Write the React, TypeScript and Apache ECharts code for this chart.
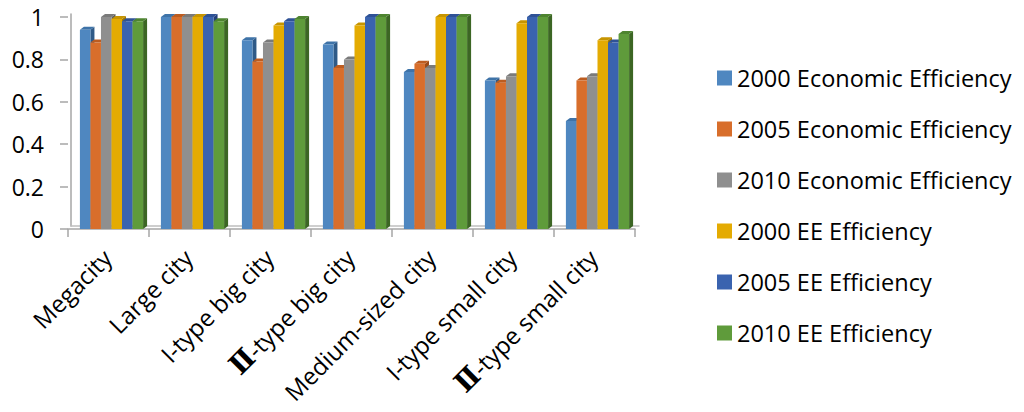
import React, { useEffect, useRef } from "react";
import * as echarts from "echarts";

const categories = [
  "Megacity",
  "Large city",
  "I-type big city",
  "Ⅱ-type big city",
  "Medium-sized city",
  "I-type small city",
  "Ⅱ-type small city",
];

const seriesNames = [
  "2000 Economic Efficiency",
  "2005 Economic Efficiency",
  "2010 Economic Efficiency",
  "2000 EE Efficiency",
  "2005 EE Efficiency",
  "2010 EE Efficiency",
];

const econ2000 = [0.94, 1.0, 0.89, 0.87, 0.74, 0.7, 0.51];
const econ2005 = [0.88, 1.0, 0.79, 0.76, 0.78, 0.69, 0.7];
const econ2010 = [1.0, 1.0, 0.88, 0.8, 0.76, 0.72, 0.72];
const ee2000 = [0.99, 1.0, 0.96, 0.96, 1.0, 0.97, 0.89];
const ee2005 = [0.98, 1.0, 0.98, 1.0, 1.0, 1.0, 0.88];
const ee2010 = [0.98, 0.98, 0.99, 1.0, 1.0, 1.0, 0.92];

const seriesValues = [econ2000, econ2005, econ2010, ee2000, ee2005, ee2010];

const yTicks = [0, 0.2, 0.4, 0.6, 0.8, 1];

const frontColors = ["#4F87C0", "#D86E2B", "#8F8F8F", "#E4AB02", "#3A63AF", "#5F9B3B"];
const sideColors = ["#2F5A87", "#9A4A18", "#5E5E5E", "#A27900", "#243F78", "#3C6624"];
const topColors = ["#3E73A8", "#BC5C20", "#7A7A7A", "#C79500", "#2F5296", "#4E8430"];

const FONT = "'Open Sans', sans-serif";

export default function App() {
  const ref = useRef<HTMLDivElement>(null);

  useEffect(() => {
    document.body.style.margin = "0";
    if (!ref.current) return;
    const chart = echarts.init(ref.current, null, { renderer: "svg" });

    const nSeries = seriesValues.length;

    const series: any[] = seriesValues.map((vals, s) => ({
      name: seriesNames[s],
      type: "custom",
      xAxisIndex: 0,
      yAxisIndex: 0,
      itemStyle: { color: frontColors[s] },
      data: vals.map((v, i) => [i, v]),
      encode: { x: 0, y: 1 },
      renderItem: (params: any, api: any) => {
        const ci = api.value(0);
        const v = api.value(1);
        const base = api.coord([ci, 0]);
        const top = api.coord([ci, v]);
        const band = api.size([1, 0])[0];
        const groupW = band * 0.78;
        const bw = groupW / nSeries;
        const x0 = base[0] - groupW / 2 + s * bw + 3;
        const dx = 4;
        const dy = 3;
        const yb = base[1];
        const yt = top[1];
        return {
          type: "group",
          children: [
            {
              type: "polygon",
              shape: {
                points: [
                  [x0 + bw, yt],
                  [x0 + bw + dx, yt - dy],
                  [x0 + bw + dx, yb - dy],
                  [x0 + bw, yb],
                ],
              },
              style: { fill: sideColors[s] },
            },
            {
              type: "polygon",
              shape: {
                points: [
                  [x0, yt],
                  [x0 + dx, yt - dy],
                  [x0 + bw + dx, yt - dy],
                  [x0 + bw, yt],
                ],
              },
              style: { fill: topColors[s] },
            },
            {
              type: "rect",
              shape: { x: x0, y: yt, width: bw, height: yb - yt },
              style: { fill: api.visual("color") },
            },
          ],
        };
      },
    }));

    const option: any = {
      animation: false,
      legend: {
        orient: "vertical",
        left: 712,
        top: 61,
        icon: "rect",
        itemWidth: 15,
        itemHeight: 15,
        itemGap: 27,
        data: seriesNames,
        textStyle: {
          fontFamily: FONT,
          fontSize: 23.5,
          color: "#000",
          lineHeight: 23.5,
        },
      },
      grid: [
        { left: 68, right: 389, top: 17, bottom: 183 },
        { left: 71, right: 385, top: 14, bottom: 186 },
      ],
      xAxis: [
        {
          type: "category",
          gridIndex: 0,
          data: categories,
          axisLine: { show: true, lineStyle: { color: "#A6A6A6", width: 1.5 } },
          axisTick: { show: true, length: 8, lineStyle: { color: "#A6A6A6", width: 1.5 } },
          axisLabel: {
            interval: 0,
            rotate: 45,
            fontFamily: FONT,
            fontSize: 24,
            color: "#000",
            margin: 23,
            padding: [0, 2, 0, 0],
            formatter: (val: string) =>
              val.startsWith("Ⅱ") ? "{r|Ⅱ}" + val.slice(1) : val,
            rich: {
              r: {
                fontFamily: "'DejaVu Serif', serif",
                fontSize: 28,
                fontWeight: "bold",
                color: "#000",
              },
            },
          },
        },
        {
          type: "category",
          gridIndex: 1,
          data: categories,
          axisLine: { show: true, lineStyle: { color: "#BFBFBF", width: 1.5 } },
          axisTick: { show: false },
          axisLabel: { show: false },
        },
      ],
      yAxis: [
        {
          type: "value",
          gridIndex: 0,
          min: yTicks[0],
          max: yTicks[yTicks.length - 1],
          interval: 0.2,
          axisLine: { show: false },
          axisTick: { show: true, length: 8, lineStyle: { color: "#A6A6A6", width: 1.5 } },
          splitLine: { show: false },
          axisLabel: {
            fontFamily: FONT,
            fontSize: 23,
            color: "#000",
            margin: 24,
          },
        },
        {
          type: "value",
          gridIndex: 1,
          min: 0,
          max: 1,
          interval: 0.2,
          axisLine: { show: true, lineStyle: { color: "#A6A6A6", width: 1.5 } },
          axisTick: { show: false },
          splitLine: { show: false },
          axisLabel: { show: false },
        },
      ],
      series,
    };

    chart.setOption(option);
    return () => chart.dispose();
  }, []);

  return <div ref={ref} style={{ width: 1024, height: 412 }} />;
}
